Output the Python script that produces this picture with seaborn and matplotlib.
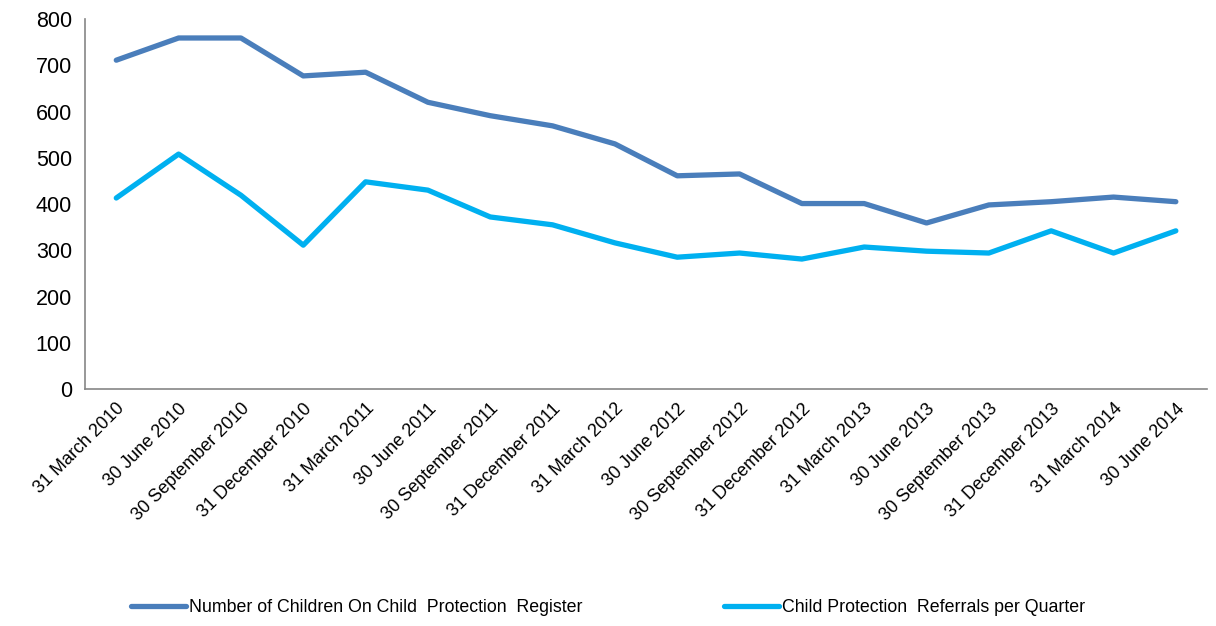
import numpy as np
import pandas as pd
import matplotlib
matplotlib.use('Agg')
import matplotlib.pyplot as plt
import seaborn as sns

# 数据
quarters = ['31 March 2010', '30 June 2010', '30 September 2010', '31 December 2010',
            '31 March 2011', '30 June 2011', '30 September 2011', '31 December 2011',
            '31 March 2012', '30 June 2012', '30 September 2012', '31 December 2012',
            '31 March 2013', '30 June 2013', '30 September 2013', '31 December 2013',
            '31 March 2014', '30 June 2014']
register = [711, 759, 759, 677, 685, 620, 591, 569, 530, 461, 465, 401,
            401, 359, 398, 405, 415, 405]
referrals = [413, 508, 419, 311, 448, 430, 372, 355, 316, 285, 294, 281,
             307, 298, 294, 342, 294, 342]

name_reg = 'Number of Children On Child  Protection  Register'
name_ref = 'Child Protection  Referrals per Quarter'

sns.set_style('white')
plt.rcParams['font.family'] = ['Liberation Sans', 'DejaVu Sans']
plt.rcParams['text.color'] = 'black'
plt.rcParams['xtick.color'] = 'black'
plt.rcParams['ytick.color'] = 'black'

df = pd.DataFrame({'pos': np.arange(len(quarters)), 'reg': register, 'ref': referrals})

fig = plt.figure(figsize=(12.16, 6.26), dpi=100)
ax = fig.add_axes([0.07, 0.3786, 0.9226, 0.591])

sns.lineplot(data=df, x='pos', y='reg', ax=ax, color='#4A7EBB', linewidth=3.8,
             label=name_reg)
sns.lineplot(data=df, x='pos', y='ref', ax=ax, color='#00B0F0', linewidth=3.8,
             label=name_ref)

ax.set_xlim(-0.5, len(quarters) - 0.5)
ax.set_ylim(0, 800)
ax.set_yticks(range(0, 801, 100))
ax.set_xticks(np.arange(len(quarters)))
ax.set_xticklabels(quarters, rotation=45, ha='right', rotation_mode='anchor', fontsize=13)
ax.set_xticks(np.arange(len(quarters) + 1) - 0.5, minor=True)
ax.tick_params(axis='x', which='major', length=0, pad=8)
ax.tick_params(axis='x', which='minor', length=6, color='#868686', width=1.2, direction='out')
ax.tick_params(axis='y', length=6, color='#868686', width=1.2, direction='out',
               labelsize=15.5, labelcolor='black')
ax.set_xlabel('')
ax.set_ylabel('')

for s in ['top', 'right']:
    ax.spines[s].set_visible(False)
for s in ['left', 'bottom']:
    ax.spines[s].set_color('#868686')
    ax.spines[s].set_linewidth(1.2)

ax.get_legend().remove()
handles, labels = ax.get_legend_handles_labels()
fig.legend(handles, labels, loc='lower center', bbox_to_anchor=(0.5, -0.01), ncol=2,
           frameon=False, fontsize=12.8, handlelength=3.1, columnspacing=8.0,
           handletextpad=0.15)

fig.savefig('out.png', dpi=100)
